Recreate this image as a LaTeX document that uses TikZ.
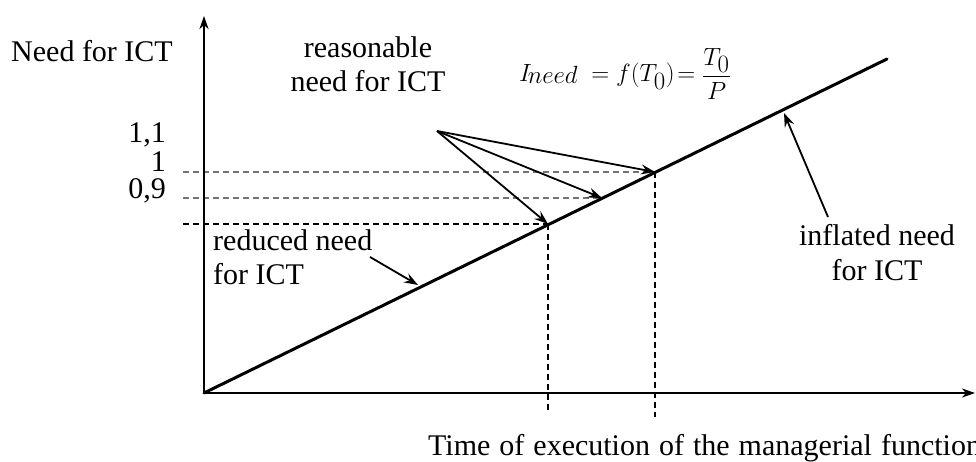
\documentclass[tikz,border=0pt]{standalone}
\usepackage{fontspec}
\setmainfont{Liberation Serif}
\usetikzlibrary{arrows.meta}
\begin{document}
\begin{tikzpicture}[x=1pt,y=-1pt,
  lbl/.style={font=\fontsize{30}{34}\selectfont, inner sep=0pt, anchor=base west},
  axisline/.style={line width=2pt, -{Stealth[length=13pt,width=9pt,inset=4pt]}},
  ptr/.style={line width=1.8pt, -{Stealth[length=14pt,width=10pt,inset=5pt]}},
  guide/.style={line width=1.3pt, dash pattern=on 6pt off 4pt},
  guidegray/.style={guide, draw=black!55},
  curveline/.style={line width=3pt, line cap=round}]
\useasboundingbox (0,0) rectangle (976,462);
% key points
\coordinate (O) at (204,393);
\coordinate (Ytop) at (204,16);
\coordinate (Xend) at (975,393);
\coordinate (E) at (887,59);
\coordinate (P1) at (655,172);
\coordinate (P2) at (602,198);
\coordinate (P3) at (548,224);
\coordinate (A) at (437,131);
\coordinate (H1) at (183,172);
\coordinate (H2) at (183,198);
\coordinate (H3) at (183,224);
\coordinate (V3) at (548,412);
\coordinate (V1) at (655,417);
\coordinate (Rs) at (370,257);
\coordinate (Rt) at (418,285);
\coordinate (Fs) at (828,217);
\coordinate (Ft) at (784,113);
% guides
\draw[guidegray] (H1) -- (P1);
\draw[guidegray] (H2) -- (P2);
\draw[guide] (H3) -- (P3);
\draw[guide] (P3) -- (V3);
\draw[guide] (P1) -- (V1);
% axes
\draw[axisline] (O) -- (Ytop);
\draw[axisline] (O) -- (Xend);
% main line
\draw[curveline] (O) -- (E);
% pointers
\draw[ptr] (A) -- (P1);
\draw[ptr] (A) -- (P2);
\draw[ptr] (A) -- (P3);
\draw[ptr] (Rs) -- (Rt);
\draw[ptr] (Fs) -- (Ft);
% texts
\node[lbl] (yl) at (11,62) {Need for ICT};
\node[lbl, anchor=base east] (t11) at (166,143) {1,1};
\node[lbl, anchor=base east] (t1) at (166,172) {1};
\node[lbl, anchor=base east] (t09) at (166,199) {0,9};
\node[lbl, anchor=base] (r1) at (368,58) {reasonable};
\node[lbl, anchor=base] (r2) at (368,92) {need for ICT};
\node[lbl] (d1) at (213,251) {reduced need};
\node[lbl] (d2) at (213,284) {for ICT};
\node[lbl, anchor=base] (i1) at (877,245) {inflated need};
\node[lbl, anchor=base] (i2) at (877,280) {for ICT};
\node[lbl] (xl) at (428,455) {\spaceskip=0.3em Time of execution of the managerial function};
\node[inner sep=0pt, anchor=base west, font=\fontsize{26}{30}\selectfont] (fm) at (519,82)
  {$I\mkern-3mu\lower2pt\hbox{$need$} \;= f\bigl(T_{\textstyle 0}\bigr)\!= \displaystyle\frac{T_{\textstyle 0}}{P}$};
\end{tikzpicture}
\end{document}
